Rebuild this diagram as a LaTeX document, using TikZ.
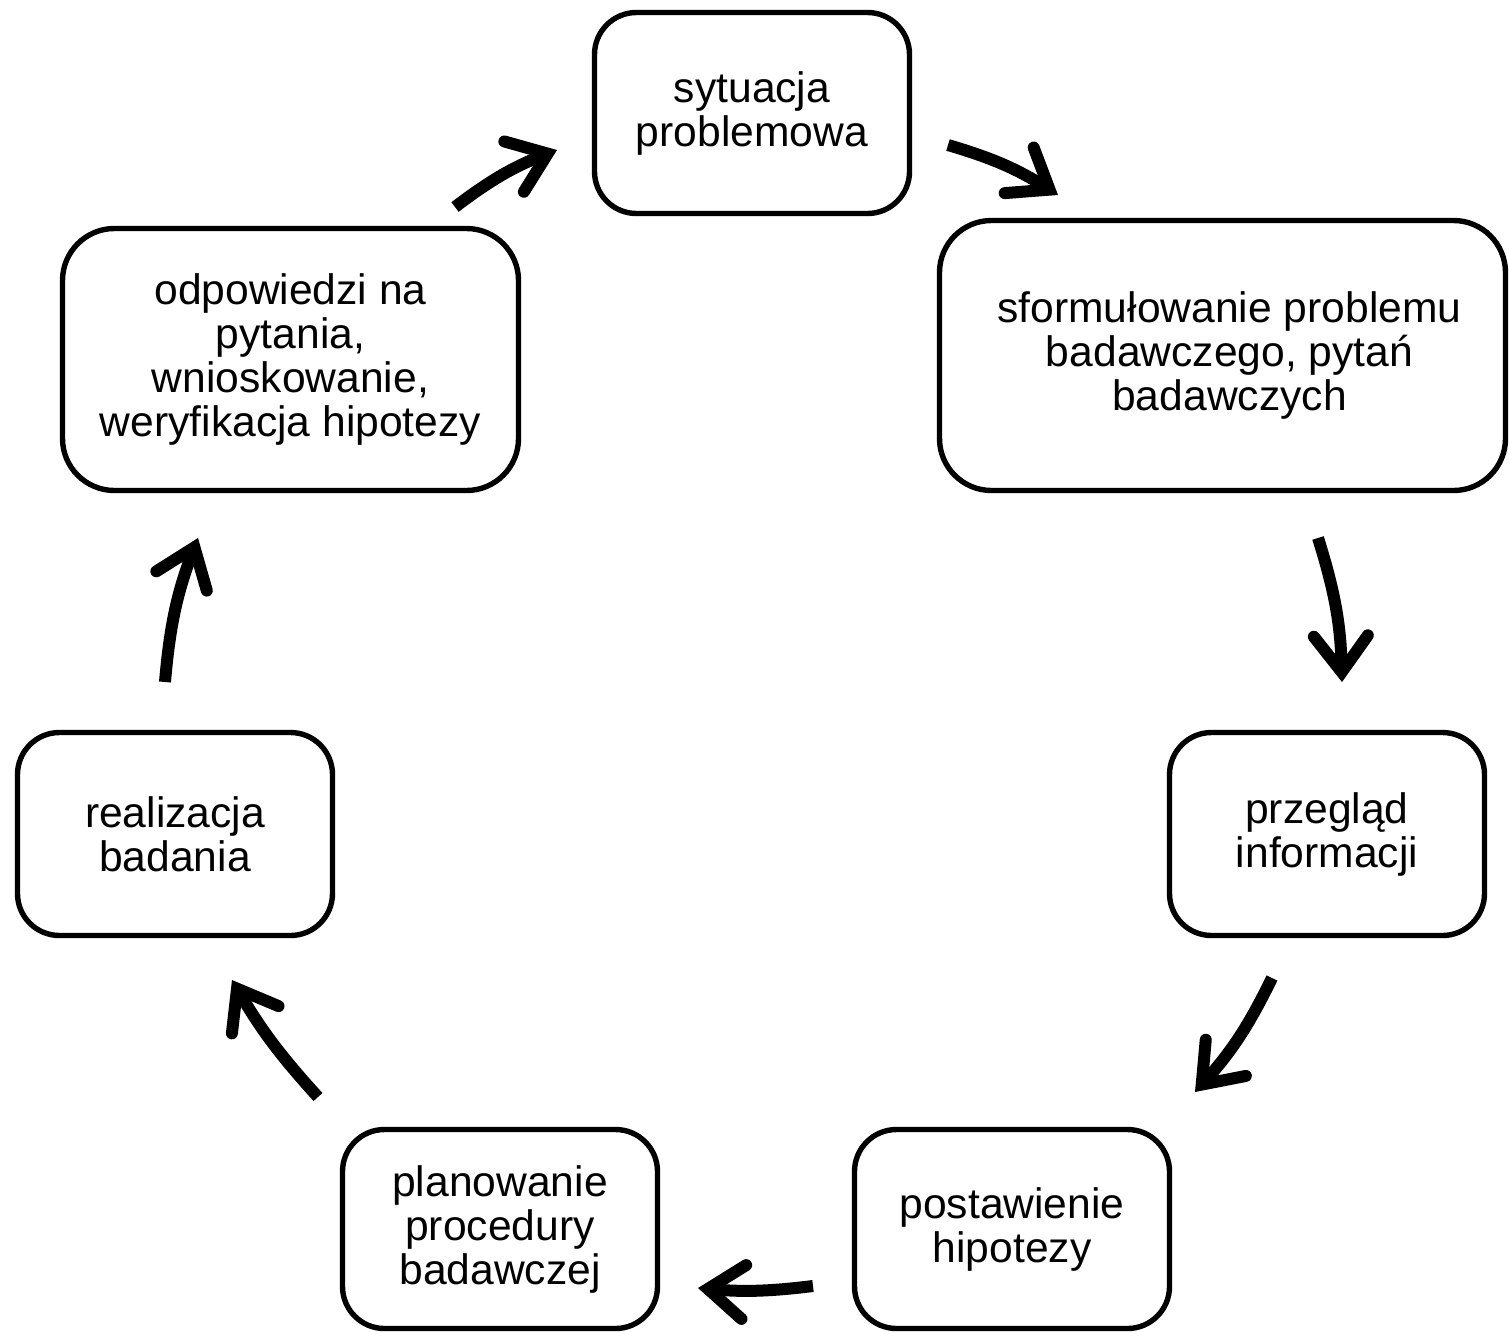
\documentclass[tikz,border=0pt]{standalone}
\usepackage{fontspec}
\setmainfont{Liberation Sans}
\usetikzlibrary{arrows.meta}
\begin{document}
\begin{tikzpicture}[x=0.5pt,y=0.5pt,
  box/.style={draw=black, line width=2.7pt, rounded corners=21pt, align=center,
    font=\fontsize{21.3pt}{22pt}\selectfont, inner sep=0pt},
  flow/.style={line width=6pt,
    -{Straight Barb[length=18pt,width=27pt,line cap=round,line join=miter]}}]
\useasboundingbox (0,0) rectangle (1509,-1333);
\node[box, minimum width=157.5pt, minimum height=100.5pt] (sit) at (752,-113) {sytuacja\\problemowa};
\node[box, minimum width=283pt, minimum height=135pt, rounded corners=26pt] (sform) at (1222.5,-355.5) {\hspace*{7pt}sformułowanie problemu\\\hspace*{7pt}badawczego, pytań\\\hspace*{7pt}badawczych};
\node[box, minimum width=157.5pt, minimum height=101.5pt] (przeg) at (1327,-834) {przegląd\\informacji};
\node[box, minimum width=157.5pt, minimum height=99.5pt] (post) at (1012,-1229) {postawienie\\hipotezy};
\node[box, minimum width=157.5pt, minimum height=99.5pt] (plan) at (500,-1229) {planowanie\\procedury\\badawczej};
\node[box, minimum width=157.5pt, minimum height=101.5pt] (real) at (175,-834) {realizacja\\badania};
\node[box, minimum width=228pt, minimum height=131pt, rounded corners=26pt] (odp) at (290.5,-359.5) {odpowiedzi na\\pytania,\\wnioskowanie,\\weryfikacja hipotezy};
\coordinate (a1s) at (455,-207); \coordinate (a1e) at (557,-150);
\coordinate (a2s) at (948,-145); \coordinate (a2e) at (1058,-195);
\coordinate (a3s) at (1318,-538); \coordinate (a3e) at (1342,-682);
\coordinate (a4s) at (1272,-978); \coordinate (a4e) at (1195,-1092);
\coordinate (a5s) at (813,-1286); \coordinate (a5e) at (698,-1288);
\coordinate (a6s) at (318,-1097); \coordinate (a6e) at (232,-980);
\coordinate (a7s) at (165,-682); \coordinate (a7e) at (198,-538);
\draw[flow] (a1s) to[bend left=8] (a1e);
\draw[flow] (a2s) to[bend left=8] (a2e);
\draw[flow] (a3s) to[bend left=8] (a3e);
\draw[flow] (a4s) to[bend left=8] (a4e);
\draw[flow] (a5s) to[bend left=6] (a5e);
\draw[flow] (a6s) to[bend left=6] (a6e);
\draw[flow] (a7s) to[bend left=8] (a7e);
\end{tikzpicture}
\end{document}
